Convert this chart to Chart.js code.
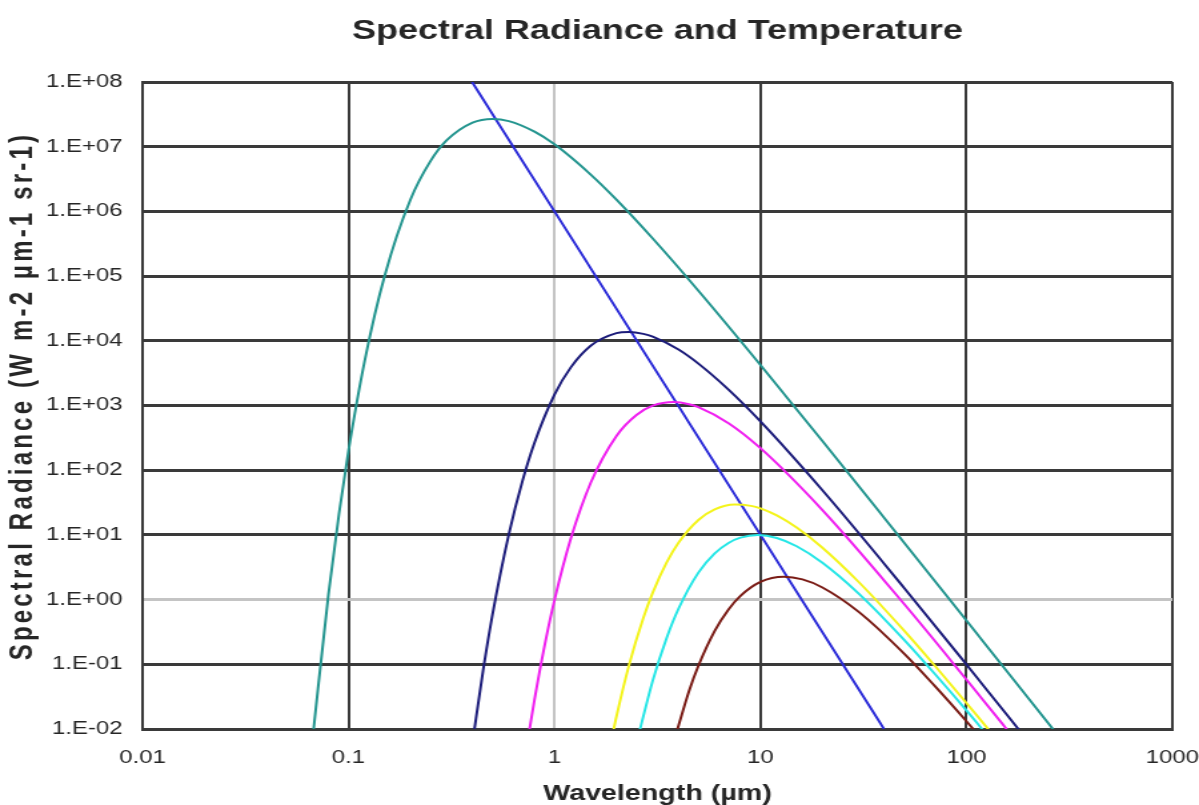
<!DOCTYPE html>
<html>
<head>
<meta charset="utf-8">
<script src="https://cdn.jsdelivr.net/npm/chart.js@4/dist/chart.umd.min.js"></script>
<style>
  html,body{margin:0;padding:0;background:#fff;overflow:hidden;}
  /* the reference picture is a horizontally stretched export, so draw narrow and stretch */
  #wrap{width:900px;height:805px;transform:scaleX(1.3322);transform-origin:0 0;}
</style>
</head>
<body>
<div id="wrap"><canvas id="c" width="900" height="805"></canvas></div>
<script>
// ---- data (wavelength in µm, radiance in W m-2 µm-1 sr-1) ----
const xTicks = [0.01, 0.1, 1, 10, 100, 1000];
const xTickLabels = ['0.01', '0.1', '1', '10', '100', '1000'];
const yTicks = [1e-2, 1e-1, 1e0, 1e1, 1e2, 1e3, 1e4, 1e5, 1e6, 1e7, 1e8];
const yTickLabels = ['1.E-02','1.E-01','1.E+00','1.E+01','1.E+02','1.E+03','1.E+04','1.E+05','1.E+06','1.E+07','1.E+08'];

const tealX = [0.067, 0.08, 0.09, 0.1, 0.12, 0.15, 0.2, 0.25, 0.3, 0.4, 0.5, 0.6, 0.8, 1, 1.5, 2, 3, 5, 10, 20, 50, 100, 200, 300];
const tealY = [0.0073, 1.24, 21.6, 200, 5030, 1.03e5, 1.53e6, 5.98e6, 1.26e7, 2.36e7, 2.69e7, 2.49e7, 1.71e7, 1.09e7, 3.71e6, 1.52e6, 3.81e5, 5.94e4, 4230, 282, 7.49, 0.474, 0.0298, 0.0059];

const navyX = [0.4, 0.45, 0.5, 0.6, 0.7, 0.8, 1, 1.2, 1.5, 2, 2.3, 2.7, 3, 4, 5, 7, 10, 20, 50, 100, 200];
const navyY = [0.0062, 0.080, 0.581, 10.1, 68.9, 266, 1470, 3886, 8377, 13120, 13690, 12810, 11600, 7329, 4439, 1760, 568, 49.0, 1.50, 0.0996, 0.0064];

const magentaX = [0.74, 0.8, 0.9, 1, 1.2, 1.5, 2, 2.5, 3, 3.8, 4.5, 5, 7, 10, 20, 50, 100, 150, 160];
const magentaY = [0.0064, 0.0285, 0.211, 0.984, 8.79, 64.0, 338, 713, 993, 1130, 1048, 943, 534, 219, 24.2, 0.845, 0.0582, 0.0119, 0.0092];

const yellowX = [1.9, 2, 2.3, 2.7, 3, 3.5, 4, 5, 6, 7.5, 9, 10, 12, 15, 20, 30, 50, 70, 100, 130];
const yellowY = [0.0073, 0.0156, 0.0964, 0.518, 1.28, 3.72, 7.55, 17.0, 24.8, 29.5, 28.1, 25.7, 20.0, 12.97, 6.33, 1.87, 0.328, 0.0964, 0.0253, 0.0093];

const cyanX = [2.6, 3, 3.5, 4, 5, 6, 7, 8, 9.7, 12, 15, 20, 30, 50, 70, 100, 120];
const cyanY = [0.0098, 0.0559, 0.253, 0.721, 2.61, 5.17, 7.51, 9.07, 9.95, 8.96, 6.68, 3.72, 1.24, 0.237, 0.072, 0.0194, 0.0097];

const brownX = [3.9, 4.5, 5, 6, 7, 8, 10, 13, 16, 20, 30, 50, 70, 100, 110];
const brownY = [0.0086, 0.0383, 0.0949, 0.328, 0.704, 1.143, 1.88, 2.26, 2.05, 1.54, 0.646, 0.145, 0.0468, 0.0132, 0.0093];

// peak locus line
const peakX = [0.398, 1, 10, 39.8];
const peakY = [1e8, 1e6, 10, 0.01];

const chartTitle = 'Spectral Radiance and Temperature';
const xTitle = 'Wavelength (µm)';
const yTitle = 'Spectral Radiance (W m-2 µm-1 sr-1)';

function pts(xs, ys){ return xs.map((x,i)=>({x:x, y:ys[i]})); }

function curve(xs, ys, color){
  return {
    data: pts(xs, ys),
    borderColor: color,
    borderWidth: 2,
    pointRadius: 0,
    fill: false,
    cubicInterpolationMode: 'monotone'
  };
}

const GRID_DARK = '#3a3a3a';
const GRID_LIGHT = '#c4c4c4';
const TEXT = '#262626';
const FONT = 'Liberation Sans, Arial, sans-serif';

// rotated y title, drawn by hand so it can be spaced out like the reference
const yTitlePlugin = {
  id: 'yTitle',
  afterDraw(chart){
    const ctx = chart.ctx;
    ctx.save();
    ctx.translate(17.5, 396);
    ctx.rotate(-Math.PI/2);
    ctx.font = 'bold 24px ' + FONT;
    if ('letterSpacing' in ctx) ctx.letterSpacing = '3.2px';
    ctx.fillStyle = TEXT;
    ctx.textAlign = 'center';
    ctx.textBaseline = 'middle';
    ctx.fillText(yTitle, 0, 0);
    ctx.restore();
  }
};

new Chart(document.getElementById('c').getContext('2d'), {
  type: 'line',
  data: {
    datasets: [
      curve(tealX, tealY, '#24958f'),
      curve(navyX, navyY, '#1c1c7a'),
      curve(magentaX, magentaY, '#f020f0'),
      curve(yellowX, yellowY, '#f4f41c'),
      curve(cyanX, cyanY, '#26e6e6'),
      curve(brownX, brownY, '#7a1c16'),
      {
        data: pts(peakX, peakY),
        borderColor: '#2a2ad8',
        borderWidth: 2,
        pointRadius: 0,
        fill: false,
        tension: 0
      }
    ]
  },
  plugins: [yTitlePlugin],
  options: {
    responsive: false,
    animation: false,
    devicePixelRatio: 1,
    layout: { padding: { left: 0, right: 20, top: 0, bottom: 0 } },
    plugins: {
      legend: { display: false },
      tooltip: { enabled: false },
      title: {
        display: true,
        fullSize: false,
        text: chartTitle,
        color: TEXT,
        font: { family: FONT, size: 27, weight: 'bold', lineHeight: 1.2 },
        padding: { top: 15, bottom: 34.6 }
      }
    },
    scales: {
      x: {
        type: 'logarithmic',
        min: 0.01,
        max: 1000,
        afterBuildTicks: s => { s.ticks = xTicks.map(v => ({value: v})); },
        afterFit: s => { s.height = 76; s.paddingRight = 0; s.paddingLeft = 0; },
        ticks: {
          color: TEXT,
          font: { family: FONT, size: 18 },
          padding: 18,
          maxRotation: 0,
          callback: (v, i) => xTickLabels[i]
        },
        grid: {
          color: c => (c.tick && c.tick.value === 1) ? GRID_LIGHT : GRID_DARK,
          lineWidth: 2,
          drawTicks: false
        },
        border: { color: GRID_DARK, width: 3 },
        title: {
          display: true,
          text: xTitle,
          color: TEXT,
          font: { family: FONT, size: 21.5, weight: 'bold', lineHeight: 1 },
          padding: { top: 0, bottom: 0 }
        }
      },
      y: {
        type: 'logarithmic',
        min: 0.01,
        max: 1e8,
        afterBuildTicks: s => { s.ticks = yTicks.map(v => ({value: v})); },
        afterFit: s => { s.width = 107; s.paddingTop = 0; s.paddingBottom = 0; },
        ticks: {
          color: TEXT,
          font: { family: FONT, size: 18 },
          padding: 15,
          callback: (v, i) => yTickLabels[i]
        },
        grid: {
          color: c => (c.tick && c.tick.value === 1) ? GRID_LIGHT : GRID_DARK,
          lineWidth: 3,
          drawTicks: false
        },
        border: { color: GRID_DARK, width: 2 }
      }
    }
  }
});
</script>
</body>
</html>
